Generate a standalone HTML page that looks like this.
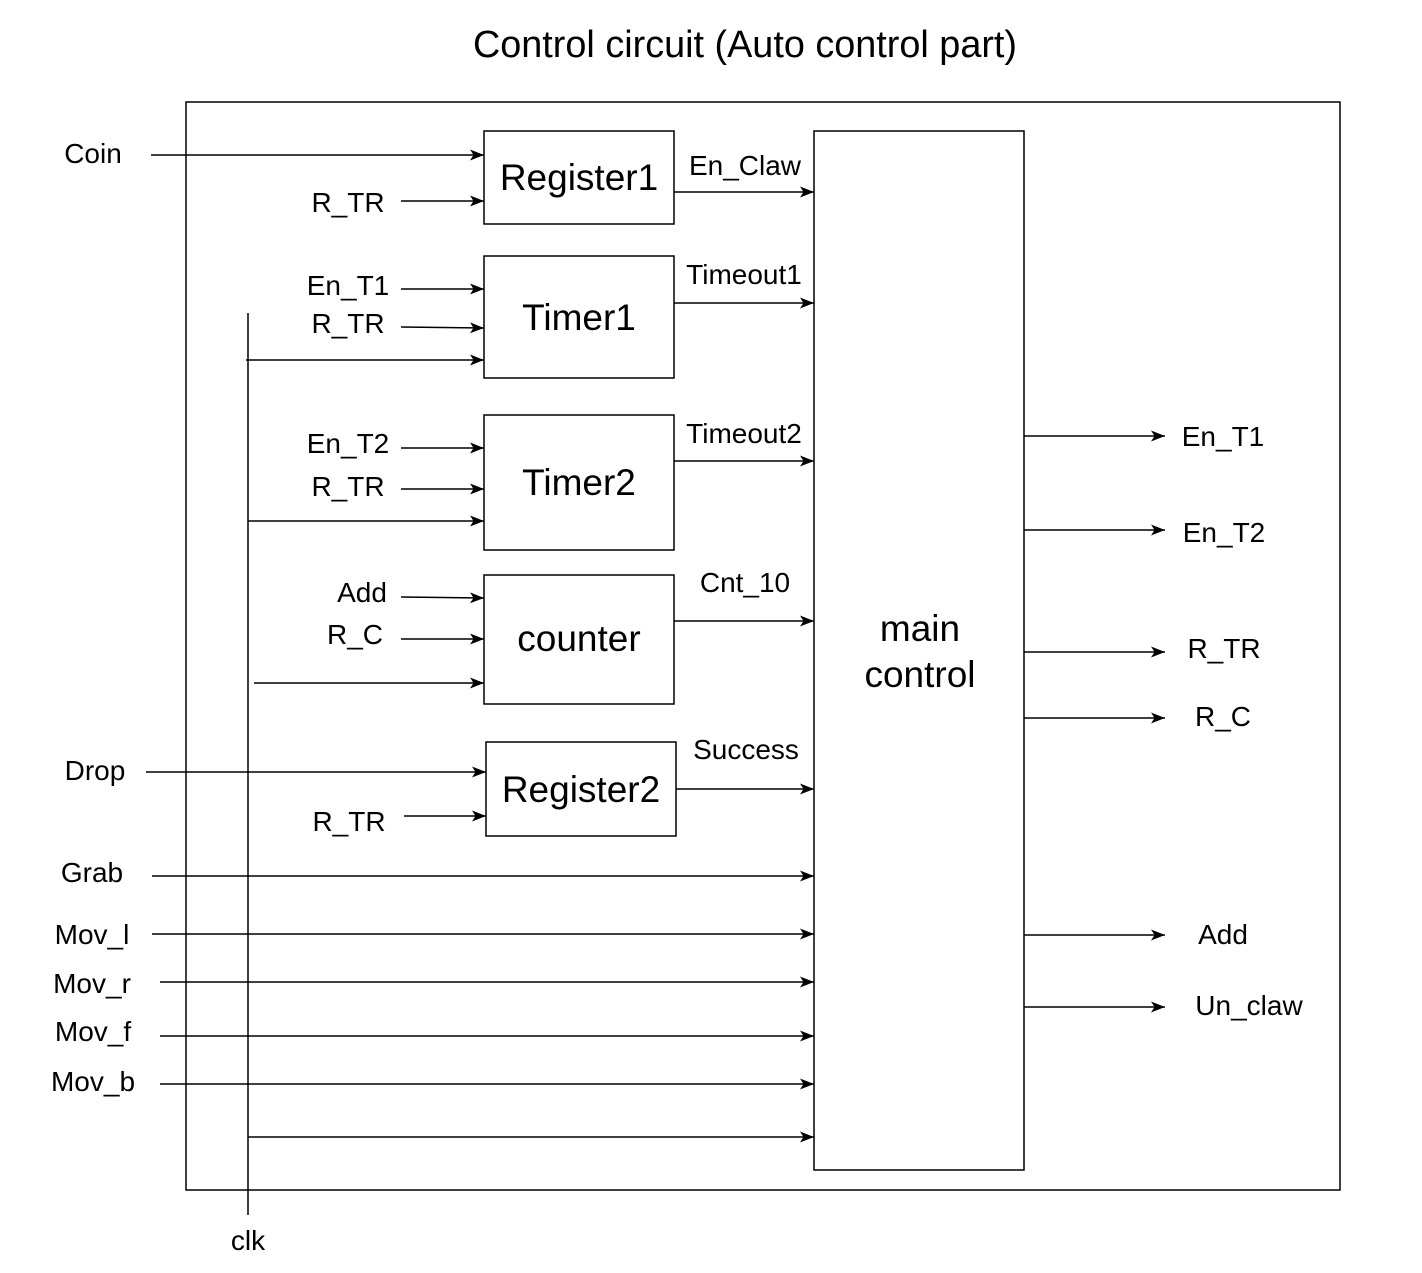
<!DOCTYPE html>
<html><head><meta charset="utf-8"><style>
html,body{margin:0;padding:0;background:#fff;}
svg text{font-family:"Liberation Sans",Arial,sans-serif;fill:#000;}
</style></head><body>
<svg width="1422" height="1268" viewBox="0 0 1422 1268" xmlns="http://www.w3.org/2000/svg">
<defs>
<marker id="a" markerWidth="16" markerHeight="14" refX="14" refY="7" orient="auto" markerUnits="userSpaceOnUse">
<path d="M0,1.5 L14,7 L0,12.5 L3.5,7 Z" fill="#000"/>
</marker>
</defs>
<g fill="none" stroke="#000" stroke-width="1.5">
<rect x="186" y="102" width="1154" height="1088"/>
<rect x="484" y="131" width="190" height="93"/>
<rect x="484" y="256" width="190" height="122"/>
<rect x="484" y="415" width="190" height="135"/>
<rect x="484" y="575" width="190" height="129"/>
<rect x="486" y="742" width="190" height="94"/>
<rect x="814" y="131" width="210" height="1039"/>
<line x1="248" y1="313" x2="248" y2="1215"/>
</g>
<g stroke="#000" stroke-width="1.5" marker-end="url(#a)">
<line x1="151" y1="155" x2="484" y2="155"/>
<line x1="401" y1="201" x2="484" y2="201"/>
<line x1="674" y1="192" x2="814" y2="192"/>
<line x1="401" y1="289" x2="484" y2="289"/>
<line x1="401" y1="327" x2="484" y2="328"/>
<line x1="246" y1="360" x2="484" y2="360"/>
<line x1="674" y1="303" x2="814" y2="303"/>
<line x1="401" y1="448" x2="484" y2="448"/>
<line x1="401" y1="489" x2="484" y2="489"/>
<line x1="248" y1="521" x2="484" y2="521"/>
<line x1="674" y1="461" x2="814" y2="461"/>
<line x1="401" y1="597" x2="484" y2="598"/>
<line x1="401" y1="639" x2="484" y2="639"/>
<line x1="254" y1="683" x2="484" y2="683"/>
<line x1="674" y1="621" x2="814" y2="621"/>
<line x1="146" y1="772" x2="486" y2="772"/>
<line x1="404" y1="816" x2="486" y2="816"/>
<line x1="676" y1="789" x2="814" y2="789"/>
<line x1="152" y1="876" x2="814" y2="876"/>
<line x1="152" y1="934" x2="814" y2="934"/>
<line x1="160" y1="982" x2="814" y2="982"/>
<line x1="160" y1="1036" x2="814" y2="1036"/>
<line x1="160" y1="1084" x2="814" y2="1084"/>
<line x1="248" y1="1137" x2="814" y2="1137"/>
<line x1="1024" y1="436" x2="1165" y2="436"/>
<line x1="1024" y1="530" x2="1165" y2="530"/>
<line x1="1024" y1="652" x2="1165" y2="652"/>
<line x1="1024" y1="718" x2="1165" y2="718"/>
<line x1="1024" y1="935" x2="1165" y2="935"/>
<line x1="1024" y1="1007" x2="1165" y2="1007"/>
</g>
<g text-anchor="middle" font-size="37">
<text x="745" y="57" font-size="37.8">Control circuit (Auto control part)</text>
<text x="579" y="190">Register1</text>
<text x="579" y="330">Timer1</text>
<text x="579" y="495">Timer2</text>
<text x="579" y="651">counter</text>
<text x="581" y="802">Register2</text>
<text x="920" y="641">main</text>
<text x="920" y="687">control</text>
</g>
<g text-anchor="middle" font-size="28">
<text x="93" y="163">Coin</text>
<text x="348" y="212">R_TR</text>
<text x="745" y="175">En_Claw</text>
<text x="348" y="295">En_T1</text>
<text x="348" y="333">R_TR</text>
<text x="744" y="284">Timeout1</text>
<text x="348" y="453">En_T2</text>
<text x="348" y="496">R_TR</text>
<text x="744" y="443">Timeout2</text>
<text x="362" y="602">Add</text>
<text x="355" y="644">R_C</text>
<text x="745" y="592">Cnt_10</text>
<text x="95" y="780">Drop</text>
<text x="349" y="831">R_TR</text>
<text x="746" y="759">Success</text>
<text x="92" y="882">Grab</text>
<text x="92" y="944">Mov_l</text>
<text x="92" y="993">Mov_r</text>
<text x="93" y="1041">Mov_f</text>
<text x="93" y="1091">Mov_b</text>
<text x="248" y="1250">clk</text>
<text x="1223" y="446">En_T1</text>
<text x="1224" y="542">En_T2</text>
<text x="1224" y="658">R_TR</text>
<text x="1223" y="726">R_C</text>
<text x="1223" y="944">Add</text>
<text x="1249" y="1015">Un_claw</text>
</g>
</svg>
</body></html>
